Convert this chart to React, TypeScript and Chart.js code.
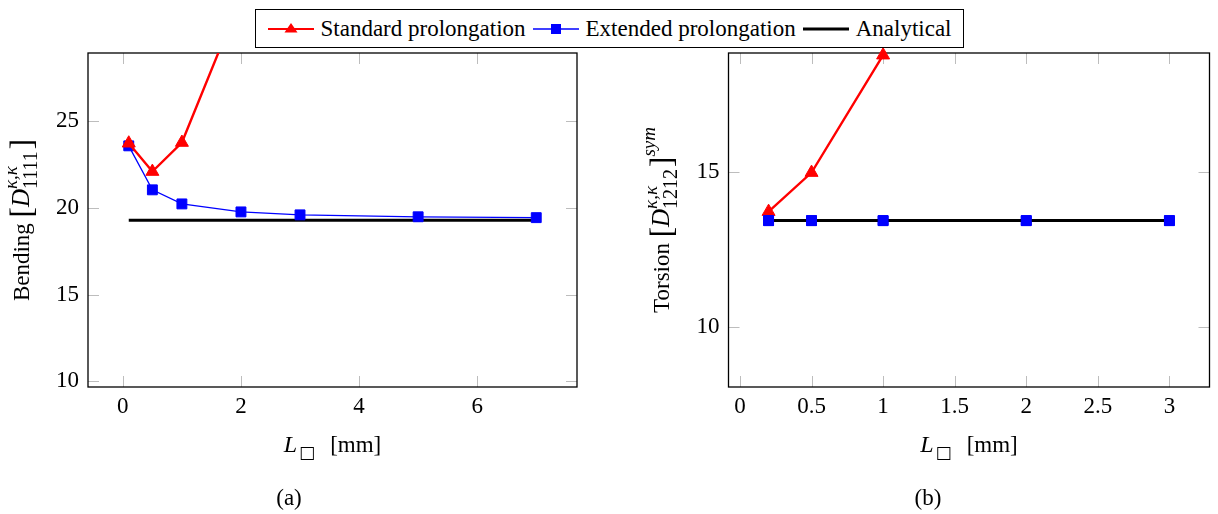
import React, { useEffect, useRef } from 'react';
import { Chart, registerables } from 'chart.js';

Chart.register(...registerables);

const FONT = '"Liberation Serif", "DejaVu Serif", serif';
const SYMBOL_FONT = '"DejaVu Sans", sans-serif';

// ---------- data ----------
const LABEL_STANDARD = 'Standard prolongation';
const LABEL_EXTENDED = 'Extended prolongation';
const LABEL_ANALYTICAL = 'Analytical';

// (a) Bending
const bendX_standard = [0.1, 0.5, 1, 2];
const bendY_standard = [23.7, 22.07, 23.74, 32.1];
const bendX_extended = [0.1, 0.5, 1, 2, 3, 5, 7];
const bendY_extended = [23.55, 21.02, 20.21, 19.75, 19.58, 19.47, 19.42];
const bendX_analytical = [0.1, 7];
const bendY_analytical = [19.27, 19.27];
const bendXTicks = [0, 2, 4, 6];
const bendYTicks = [10, 15, 20, 25];
const bendXRange = [-0.59, 7.69];
const bendYRange = [9.68, 28.89];

// (b) Torsion
const torsX_standard = [0.2, 0.5, 1];
const torsY_standard = [13.73, 14.99, 18.78];
const torsX_extended = [0.2, 0.5, 1, 2, 3];
const torsY_extended = [13.44, 13.44, 13.44, 13.44, 13.44];
const torsX_analytical = [0.2, 3];
const torsY_analytical = [13.44, 13.44];
const torsXTicks = [0, 0.5, 1, 1.5, 2, 2.5, 3];
const torsYTicks = [10, 15];
const torsXRange = [-0.08, 3.28];
const torsYRange = [8.07, 18.85];

// ---------- colours ----------
const RED = '#ff0000';
const BLUE = '#0000ff';
const BLACK = '#000000';

const pts = (xs: number[], ys: number[]) => xs.map((x, i) => ({ x, y: ys[i] }));

// ---------- text runs ----------
type Piece = { t: string; size: number; italic?: boolean; dy?: number; family?: string; w?: number };
type Run = Piece | { stack: Piece[] };

const pieceFont = (p: Piece) => `${p.italic ? 'italic ' : ''}${p.size}px ${p.family || FONT}`;

function measureRun(ctx: CanvasRenderingContext2D, r: Run) {
  const parts = 'stack' in r ? r.stack : [r];
  return Math.max(
    ...parts.map((p) => {
      if (p.w !== undefined) return p.w;
      ctx.font = pieceFont(p);
      return ctx.measureText(p.t).width;
    })
  );
}

function drawRuns(ctx: CanvasRenderingContext2D, runs: Run[], x: number, y: number, rotate: boolean) {
  ctx.save();
  ctx.translate(x, y);
  if (rotate) ctx.rotate(-Math.PI / 2);
  ctx.fillStyle = '#000';
  ctx.textBaseline = 'alphabetic';
  ctx.textAlign = 'left';
  const widths = runs.map((r) => measureRun(ctx, r));
  const total = widths.reduce((a, b) => a + b, 0);
  let cx = -total / 2;
  runs.forEach((r, i) => {
    const parts = 'stack' in r ? r.stack : [r];
    parts.forEach((p) => {
      if (!p.t) return;
      ctx.font = pieceFont(p);
      ctx.fillText(p.t, cx, p.dy || 0);
    });
    cx += widths[i];
  });
  ctx.restore();
}

const xTitleRuns: Run[] = [
  { t: 'L', size: 24, italic: true },
  { t: '', size: 23, w: 2 },
  { t: '\u25A1', size: 17, dy: 6, family: SYMBOL_FONT },
  { t: '', size: 23, w: 15 },
  { t: '[mm]', size: 23 },
];

const bendTitleRuns: Run[] = [
  { t: 'Bending ', size: 23 },
  { t: '[', size: 31, dy: 3 },
  { t: 'D', size: 25, italic: true },
  {
    stack: [
      { t: '\u03BA,\u03BA', size: 19, italic: true, dy: -12 },
      { t: '1111', size: 20, dy: 8 },
    ],
  },
  { t: '', size: 23, w: 2 },
  { t: ']', size: 31, dy: 3 },
];

const torsTitleRuns: Run[] = [
  { t: 'Torsion ', size: 23 },
  { t: '[', size: 31, dy: 3 },
  { t: 'D', size: 25, italic: true },
  {
    stack: [
      { t: '\u03BA,\u03BA', size: 19, italic: true, dy: -12 },
      { t: '1212', size: 20, dy: 8 },
    ],
  },
  { t: '', size: 23, w: 2 },
  { t: ']', size: 31, dy: 3 },
  { t: 'sym', size: 19, italic: true, dy: -14 },
];

// ---------- plugin ----------
function makeFigurePlugin(cfg: {
  yTitle: Run[];
  yTitleX: number;
  xTitleY: number;
  redrawPointsOf?: number;
}) {
  return {
    id: 'figure',
    beforeDatasetsDraw(chart: any) {
      const { ctx, chartArea: a, scales } = chart;
      const len = 11;
      ctx.save();
      ctx.strokeStyle = '#bdbdbd';
      ctx.lineWidth = 1;
      ctx.beginPath();
      scales.x.ticks.forEach((t: any) => {
        const px = Math.round(scales.x.getPixelForValue(t.value)) + 0.5;
        ctx.moveTo(px, a.bottom);
        ctx.lineTo(px, a.bottom - len);
        ctx.moveTo(px, a.top);
        ctx.lineTo(px, a.top + len);
      });
      scales.y.ticks.forEach((t: any) => {
        const py = Math.round(scales.y.getPixelForValue(t.value)) + 0.5;
        ctx.moveTo(a.left, py);
        ctx.lineTo(a.left + len, py);
        ctx.moveTo(a.right, py);
        ctx.lineTo(a.right - len, py);
      });
      ctx.stroke();
      ctx.strokeStyle = '#000';
      ctx.lineWidth = 1.3;
      ctx.strokeRect(a.left, a.top, a.right - a.left, a.bottom - a.top);
      ctx.restore();
    },
    afterDatasetsDraw(chart: any) {
      if (cfg.redrawPointsOf === undefined) return;
      const meta = chart.getDatasetMeta(cfg.redrawPointsOf);
      meta.data.forEach((el: any) => el.draw(chart.ctx, chart.chartArea));
    },
    afterDraw(chart: any) {
      const { ctx, chartArea: a } = chart;
      drawRuns(ctx, cfg.yTitle, cfg.yTitleX, (a.top + a.bottom) / 2, true);
      drawRuns(ctx, xTitleRuns, (a.left + a.right) / 2, cfg.xTitleY, false);
    },
  };
}

const tickFont = { family: FONT, size: 23 };
const fmt = (v: any) => String(v);

function makeScales(xRange: number[], yRange: number[], xTicks: number[], yTicks: number[], yWidth: number, xHeight: number) {
  return {
    x: {
      type: 'linear',
      min: xRange[0],
      max: xRange[1],
      afterBuildTicks: (s: any) => {
        s.ticks = xTicks.map((v) => ({ value: v }));
      },
      afterFit: (s: any) => {
        s.height = xHeight;
      },
      grid: { display: false, drawTicks: false },
      border: { display: false },
      ticks: { font: tickFont, color: '#000', padding: 6, maxRotation: 0, autoSkip: false, callback: fmt },
    },
    y: {
      type: 'linear',
      min: yRange[0],
      max: yRange[1],
      afterBuildTicks: (s: any) => {
        s.ticks = yTicks.map((v) => ({ value: v }));
      },
      afterFit: (s: any) => {
        s.width = yWidth;
      },
      grid: { display: false, drawTicks: false },
      border: { display: false },
      ticks: { font: tickFont, color: '#000', padding: 9, autoSkip: false, callback: fmt },
    },
  };
}

function standardDs(data: any, clip: any) {
  return {
    label: LABEL_STANDARD,
    data,
    showLine: true,
    borderColor: RED,
    borderWidth: 2.4,
    pointStyle: 'triangle',
    pointRadius: 7.5,
    pointBackgroundColor: RED,
    pointBorderColor: RED,
    pointBorderWidth: 1,
    tension: 0,
    clip,
  };
}
function extendedDs(data: any, clip: any) {
  return {
    label: LABEL_EXTENDED,
    data,
    showLine: true,
    borderColor: BLUE,
    borderWidth: 1.3,
    pointStyle: 'rect',
    pointRadius: 7,
    pointBackgroundColor: BLUE,
    pointBorderColor: BLUE,
    pointBorderWidth: 1,
    tension: 0,
    clip,
  };
}
function analyticalDs(data: any, clip: any) {
  return {
    label: LABEL_ANALYTICAL,
    data,
    showLine: true,
    borderColor: BLACK,
    borderWidth: 3,
    pointRadius: 0,
    tension: 0,
    clip,
  };
}

const H = 514;
const LEFT_W = 620;
const RIGHT_X = 620;
const RIGHT_W = 598;
const PLOT_TOP = 53;
const PLOT_BOTTOM = 387;

function BendingChart() {
  const ref = useRef<HTMLCanvasElement>(null);
  useEffect(() => {
    if (!ref.current) return;
    const chart = new Chart(ref.current, {
      type: 'scatter',
      data: {
        datasets: [
          standardDs(pts(bendX_standard, bendY_standard), 0),
          extendedDs(pts(bendX_extended, bendY_extended), 0),
          analyticalDs(pts(bendX_analytical, bendY_analytical), 0),
        ] as any,
      },
      options: {
        animation: false,
        responsive: false,
        events: [],
        layout: { padding: { left: 0, top: PLOT_TOP, right: LEFT_W - 577, bottom: 0 } },
        plugins: { legend: { display: false }, tooltip: { enabled: false } },
        scales: makeScales(bendXRange, bendYRange, bendXTicks, bendYTicks, 88, H - PLOT_BOTTOM) as any,
      },
      plugins: [makeFigurePlugin({ yTitle: bendTitleRuns, yTitleX: 29, xTitleY: 452 })],
    } as any);
    return () => chart.destroy();
  }, []);
  return (
    <canvas ref={ref} width={LEFT_W} height={H} style={{ position: 'absolute', left: 0, top: 0, width: LEFT_W, height: H }} />
  );
}

function TorsionChart() {
  const ref = useRef<HTMLCanvasElement>(null);
  useEffect(() => {
    if (!ref.current) return;
    const chart = new Chart(ref.current, {
      type: 'scatter',
      data: {
        datasets: [
          analyticalDs(pts(torsX_analytical, torsY_analytical), false),
          extendedDs(pts(torsX_extended, torsY_extended), false),
          standardDs(pts(torsX_standard, torsY_standard), false),
        ] as any,
      },
      options: {
        animation: false,
        responsive: false,
        events: [],
        layout: { padding: { left: 0, top: PLOT_TOP, right: RIGHT_W - (1216.5 - RIGHT_X), bottom: 0 } },
        plugins: { legend: { display: false }, tooltip: { enabled: false } },
        scales: makeScales(torsXRange, torsYRange, torsXTicks, torsYTicks, 728.5 - RIGHT_X, H - PLOT_BOTTOM) as any,
      },
      plugins: [makeFigurePlugin({ yTitle: torsTitleRuns, yTitleX: 669 - RIGHT_X, xTitleY: 452, redrawPointsOf: 1 })],
    } as any);
    return () => chart.destroy();
  }, []);
  return (
    <canvas
      ref={ref}
      width={RIGHT_W}
      height={H}
      style={{ position: 'absolute', left: RIGHT_X, top: 0, width: RIGHT_W, height: H }}
    />
  );
}

function LegendIcon({ kind }: { kind: 'std' | 'ext' | 'ana' }) {
  return (
    <svg width={46} height={20} style={{ display: 'block' }}>
      {kind === 'std' && (
        <>
          <line x1={0} y1={10} x2={46} y2={10} stroke={RED} strokeWidth={2.2} />
          <polygon points="23,4 29.5,13.5 16.5,13.5" fill={RED} />
        </>
      )}
      {kind === 'ext' && (
        <>
          <line x1={0} y1={10} x2={46} y2={10} stroke={BLUE} strokeWidth={1.3} />
          <rect x={18} y={5} width={10} height={10} fill={BLUE} />
        </>
      )}
      {kind === 'ana' && <line x1={0} y1={10} x2={46} y2={10} stroke={BLACK} strokeWidth={3} />}
    </svg>
  );
}

const legendEntries: { kind: 'std' | 'ext' | 'ana'; label: string }[] = [
  { kind: 'std', label: LABEL_STANDARD },
  { kind: 'ext', label: LABEL_EXTENDED },
  { kind: 'ana', label: LABEL_ANALYTICAL },
];

export default function App() {
  return (
    <div style={{ position: 'absolute', left: 0, top: 0, width: 1218, height: H, background: '#fff', overflow: 'hidden' }}>
      <BendingChart />
      <TorsionChart />
      <div
        style={{
          position: 'absolute',
          left: 255,
          top: 9,
          width: 709,
          height: 39,
          border: '1px solid #000',
          boxSizing: 'border-box',
          background: '#fff',
          display: 'flex',
          alignItems: 'center',
          justifyContent: 'center',
          fontFamily: FONT,
          fontSize: 23,
          color: '#000',
          whiteSpace: 'nowrap',
        }}
      >
        {legendEntries.map((e) => (
          <div key={e.kind} style={{ display: 'flex', alignItems: 'center', margin: '0 3.5px' }}>
            <LegendIcon kind={e.kind} />
            <span style={{ marginLeft: 7, lineHeight: '24px' }}>{e.label}</span>
          </div>
        ))}
      </div>
      <div style={{ position: 'absolute', left: 239, top: 484, width: 100, height: 28, lineHeight: '28px', textAlign: 'center', fontFamily: FONT, fontSize: 23 }}>
        (a)
      </div>
      <div style={{ position: 'absolute', left: 878, top: 484, width: 100, height: 28, lineHeight: '28px', textAlign: 'center', fontFamily: FONT, fontSize: 23 }}>
        (b)
      </div>
    </div>
  );
}
